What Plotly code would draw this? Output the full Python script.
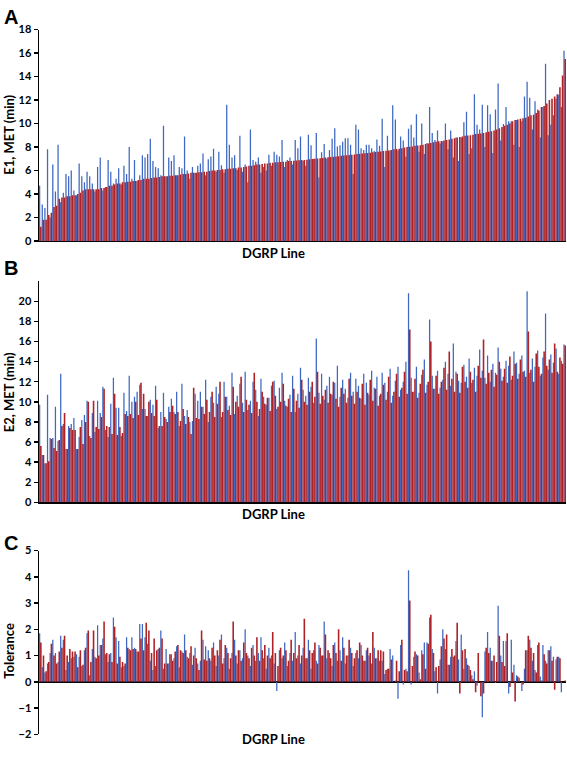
import plotly.graph_objects as go

# ---------------- data ----------------
# Panel A: E1, MET (min) -- red series sorted ascending
e1_red = [
    1.2, 1.8, 1.8, 2.2, 2.4, 2.9, 3.0, 3.6, 3.7, 3.7,
    3.8, 3.8, 3.9, 3.9, 4.0, 4.1, 4.3, 4.4, 4.4, 4.4,
    4.4, 4.4, 4.4, 4.5, 4.5, 4.6, 4.7, 4.7, 4.8, 4.9,
    4.9, 5.0, 5.0, 5.05, 5.05, 5.1, 5.1, 5.2, 5.2, 5.3,
    5.3, 5.3, 5.35, 5.4, 5.4, 5.45, 5.5, 5.5, 5.5, 5.55,
    5.55, 5.6, 5.6, 5.65, 5.7, 5.7, 5.75, 5.8, 5.8, 5.8,
    5.85, 5.85, 5.9, 5.9, 5.95, 6.0, 6.0, 6.05, 6.05, 6.1,
    6.1, 6.15, 6.15, 6.2, 6.2, 6.25, 6.25, 6.3, 6.35, 6.4,
    6.4, 6.45, 6.5, 6.5, 6.55, 6.6, 6.6, 6.65, 6.65, 6.7,
    6.7, 6.72, 6.75, 6.75, 6.8, 6.8, 6.82, 6.85, 6.87, 6.9,
    6.9, 6.92, 6.95, 6.97, 7.0, 7.02, 7.05, 7.07, 7.1, 7.12,
    7.15, 7.17, 7.2, 7.22, 7.25, 7.27, 7.3, 7.32, 7.35, 7.37,
    7.4, 7.42, 7.45, 7.47, 7.5, 7.52, 7.55, 7.57, 7.6, 7.62,
    7.65, 7.68, 7.7, 7.75, 7.8, 7.82, 7.85, 7.9, 7.95, 8.0,
    8.02, 8.05, 8.1, 8.12, 8.15, 8.2, 8.25, 8.3, 8.35, 8.4,
    8.45, 8.5, 8.52, 8.55, 8.6, 8.65, 8.7, 8.75, 8.8, 8.85,
    8.9, 8.95, 8.97, 9.0, 9.05, 9.1, 9.12, 9.15, 9.2, 9.25,
    9.3, 9.35, 9.4, 9.5, 9.6, 9.7, 9.8, 9.9, 10.0, 10.2,
    10.3, 10.35, 10.4, 10.45, 10.5, 10.6, 10.7, 10.75, 10.9, 11.1,
    11.4, 11.5, 11.7, 12.0, 12.1, 12.3, 12.5, 13.1, 14.1, 15.5,
]
e1_blue = [
    4.7, 3.1, 2.8, 7.8, 2.0, 6.5, 4.2, 8.2, 3.3, 4.1,
    5.7, 5.5, 6.0, 4.3, 3.9, 6.6, 5.5, 5.0, 5.9, 5.5,
    4.9, 4.2, 6.3, 7.1, 4.3, 4.6, 6.9, 5.9, 4.9, 5.3,
    6.2, 4.8, 6.4, 5.7, 8.0, 5.3, 6.9, 5.1, 5.6, 7.3,
    7.1, 7.4, 8.7, 6.8, 6.3, 6.2, 5.6, 9.8, 5.5, 7.1,
    6.8, 7.3, 5.6, 6.3, 6.2, 8.9, 6.0, 5.3, 6.3, 5.8,
    6.4, 6.6, 7.45, 5.6, 6.95, 7.2, 7.85, 5.9, 7.6, 6.45,
    5.8, 11.6, 8.2, 7.1, 7.3, 6.05, 8.95, 5.9, 6.5, 5.0,
    9.5, 6.9, 6.75, 7.1, 5.8, 6.3, 6.0, 7.35, 6.4, 7.6,
    7.35, 7.2, 8.6, 6.3, 6.9, 7.1, 6.5, 8.6, 7.9, 8.9,
    6.8, 6.4, 9.05, 8.15, 7.0, 9.2, 5.4, 7.55, 8.25, 7.0,
    7.75, 8.7, 9.6, 8.05, 8.15, 8.45, 8.75, 8.75, 8.2, 5.7,
    9.9, 9.5, 7.9, 7.75, 8.2, 8.2, 7.9, 7.65, 8.65, 8.1,
    10.4, 6.3, 8.95, 7.7, 11.55, 10.35, 7.7, 8.9, 8.55, 7.2,
    9.55, 9.9, 8.8, 10.8, 7.6, 10.0, 7.4, 8.35, 11.4, 9.2,
    8.6, 9.4, 8.3, 8.5, 10.0, 7.8, 9.4, 7.1, 8.8, 6.8,
    8.8, 10.1, 11.0, 7.4, 7.9, 12.5, 9.9, 9.5, 11.6, 8.0,
    11.55, 10.8, 7.5, 11.2, 13.4, 8.55, 9.95, 11.4, 10.2, 10.2,
    8.2, 10.3, 8.0, 10.2, 12.3, 13.55, 12.2, 9.5, 11.9, 11.2,
    8.8, 11.4, 15.1, 9.0, 9.9, 10.7, 12.1, 12.45, 11.4, 16.2,
]

# Panel B: E2, MET (min)
e2_blue = [
    9.7, 4.7, 3.9, 10.7, 6.4, 6.4, 9.5, 6.1, 12.8, 7.8,
    5.3, 7.6, 7.8, 8.4, 5.3, 6.5, 8.2, 8.7, 10.1, 6.6,
    8.9, 7.0, 10.1, 8.9, 11.5, 7.2, 6.5, 9.8, 12.4, 9.4,
    9.4, 6.6, 10.9, 9.1, 12.6, 10.0, 10.5, 11.0, 11.7, 9.3,
    9.3, 8.6, 10.2, 9.7, 11.6, 7.4, 9.0, 10.9, 8.3, 9.5,
    10.3, 9.0, 11.0, 7.6, 11.8, 8.6, 9.2, 8.0, 8.1, 10.8,
    10.1,
    11.0, 9.5, 12.2, 8.0, 10.5, 9.9, 11.5, 10.8, 8.5, 12.0,
    10.5, 9.6, 12.9, 8.8, 10.6, 11.8, 9.9, 13.0, 9.2, 10.1,
    12.0, 11.2, 8.6, 12.3, 10.5, 9.7, 10.4, 11.6, 12.1, 9.3,
    11.4, 12.9, 10.1, 9.5, 10.7, 12.6, 9.0, 10.8, 13.4, 11.2,
    10.6, 12.4, 11.5, 9.9, 16.3, 10.9, 12.8, 10.2, 11.6, 12.5,
    10.7, 11.9, 13.6, 10.5, 12.2, 11.3, 10.4, 12.9, 11.0, 12.3,
    11.6, 10.3, 12.8, 11.9, 10.7, 13.1, 11.4, 12.5, 10.6, 12.9,
    11.9, 11.0, 13.3, 10.6, 12.1, 13.5, 11.2, 12.0, 14.0, 20.8,
    12.4, 11.0, 13.5, 10.9, 12.7, 14.2, 11.7, 18.2, 12.6, 11.3,
    13.1, 11.4, 12.2, 14.0, 12.8, 11.6, 15.8, 13.0, 12.1, 11.9,
    13.7, 12.5, 14.3, 11.9, 13.4, 12.6, 15.2, 13.1, 12.4, 14.6,
    12.0, 13.8, 12.9, 15.4, 13.3, 12.5, 14.1, 13.6, 12.2, 15.0,
    13.9, 12.8, 14.6, 13.1, 21.0, 12.9, 14.3, 13.5, 15.1, 12.6,
    14.4, 18.8, 13.2, 14.7, 13.9, 15.3, 12.8, 14.1, 15.7,
]
e2_red = [
    5.6, 4.7, 3.9, 4.1, 6.3, 5.4, 5.1, 6.2, 7.6, 8.9,
    5.3, 7.4, 7.2, 7.2, 5.3, 7.5, 5.8, 8.0, 10.0, 6.4,
    10.1, 7.5, 7.3, 8.5, 11.3, 7.6, 7.5, 6.8, 10.8, 6.7,
    7.5, 6.9, 8.8, 8.6, 8.8, 8.4, 10.0, 8.7, 11.9, 10.8,
    8.6, 10.0, 8.9, 8.6, 10.2, 7.6, 7.6, 8.5, 8.0, 9.0,
    9.6, 8.8, 9.0, 8.1, 9.3, 7.8, 8.5, 6.8, 11.4, 8.4,
    8.3,
    9.5, 8.8, 10.2, 9.0, 11.0, 8.5, 9.8, 12.0, 9.0, 10.5,
    9.2, 8.7, 11.5, 10.0, 9.5, 12.5, 9.0, 10.2, 9.7, 8.9,
    12.9, 10.0, 9.3, 11.0, 9.8, 10.4, 9.1, 12.0, 10.6, 9.5,
    10.0, 11.8, 9.6, 10.3, 9.0, 11.3, 10.1, 9.4, 12.2, 10.0,
    9.7, 11.0, 12.0, 10.5, 13.0, 9.8, 10.6, 11.2, 9.9, 10.8,
    12.0, 10.3, 9.5, 11.4, 10.8, 9.9, 12.3, 10.6, 9.8, 11.0,
    10.4, 11.8, 9.7, 10.9, 12.2, 10.1, 11.3, 9.6, 10.8, 11.7,
    10.2, 12.5, 9.9, 11.0, 12.8, 10.5, 11.4, 13.0, 10.8, 17.2,
    11.0, 12.3, 10.4, 11.8, 13.2, 10.9, 12.0, 16.0, 11.3, 12.6,
    10.8, 12.0, 13.4, 11.2, 15.0, 12.3, 11.0, 12.8, 10.9, 13.5,
    12.0, 11.4, 13.0, 12.2, 11.0, 13.6, 12.4, 16.2, 11.8, 12.9,
    13.2, 11.5, 12.7, 14.0, 12.1, 13.3, 11.9, 14.5, 12.6, 13.8,
    12.3, 14.2, 13.0, 12.5, 17.0, 13.2, 12.0, 14.8, 13.5, 12.8,
    15.0, 13.6, 14.2, 12.9, 15.8, 13.0, 14.4, 13.8, 15.6,
]

# Panel C: Tolerance
tol_blue = [
    1.85, 0.55, 0.35, 0.7, 1.1, 1.6, 1.1, 0.75, 1.75, 1.6,
    0.45, 0.75, 0.9, 0.95, 1.05, 0.95, 0.6, 1.2, 1.85, 0.25,
    1.25, 0.95, 2.15, 1.4, 1.65, 1.05, 0.75, 1.1, 2.45, 1.7,
    1.55, 0.55, 0.6, 1.7, 1.25, 1.7, 1.3, 1.15, 2.2, 2.2,
    1.7, 1.45, 0.8, 0.45, 0.6, 1.25, 1.95, 0.5, 1.25, 0.7,
    1.05, 0.9, 1.35, 0.55, 1.15, 1.8, 0.95, 1.1, 0.65, 1.3,
    0.7, 0.8, 1.6, 1.35,
    1.2, 0.8, 1.5, 0.6, 1.0, 1.8, 0.9, 1.3, 0.5, 1.1,
    1.6, 0.7, 1.2, 0.9, 2.0, 1.0, 0.6, 1.4, 0.8, 1.1,
    1.7, 0.9, 0.5, 1.3, 1.0, 0.7, -0.35, 1.2, 0.9, 1.5,
    0.6, 1.1, 0.8, 1.9, 1.0, 0.7, 1.3, 0.9, 1.6, 0.5,
    1.2, 0.8, 1.4, 1.0, 2.3, 0.9, 1.1, 0.6, 1.5, 0.8,
    1.2, 1.7, 0.7, 1.0, 1.3, 0.6, 1.1, 0.9, 1.4, 0.8,
    1.2, 1.0, 0.7, 1.3, 0.9,
    0.8, 0.8, 0.3, 0.5, 1.25, 1.0, 0.05, -0.65, 1.4, -0.1,
    0.5, 4.25, -0.1, 0.95, 1.05, 0.35, 1.2, 1.5, 1.5, 2.45,
    1.25, 0.4, -0.45, 0.85, 2.0, 1.25, 0.65, 0.95, 0.95, 1.55,
    0.85, 1.8, 0.5, 0.9, 0.6, 0.25, 0.4, -0.15, 0.0, -1.35,
    1.15, 1.9, 1.3, 0.8, -0.05, 2.9, 1.0, 1.55, 1.55, -0.45,
    1.6, 0.65, 0.25, 0.15, -0.35, 0.5, 1.2, 1.6, 0.8, 0.45,
    1.4, 0.2, 1.4, 0.8, 1.2, 1.35, 0.95, 0.85, 0.95, -0.4,
    0.0,
]
tol_red = [
    1.5, 1.0, 0.4, 0.75, 1.45, 1.0, 0.7, 1.15, 1.3, 1.75,
    1.0, 1.25, 1.15, 1.15, 0.55, 1.2, 0.65, 1.3, 1.95, 0.75,
    1.95, 0.9, 1.0, 1.4, 2.3, 1.1, 1.05, 0.75, 2.1, 0.7,
    0.95, 0.75, 0.7, 1.3, 1.2, 1.25, 1.25, 1.15, 1.65, 1.2,
    2.25, 1.95, 1.1, 1.65, 1.2, 1.3, 1.65, 0.7, 0.7, 1.05,
    0.8, 1.15, 1.4, 1.2, 1.1, 1.2, 0.9, 1.35, 1.0, 0.9,
    0.45, 1.95, 0.85, 0.8,
    0.9, 1.3, 1.0, 1.2, 1.6, 0.7, 1.4, 1.1, 0.9, 2.3,
    1.0, 1.2, 0.8, 1.5, 1.1, 0.9, 1.3, 1.0, 1.7, 0.8,
    1.2, 1.4, 1.0, 0.9, 1.9, 1.1, 0.6, 1.3, 1.0, 1.2,
    0.8, 1.6, 1.1, 0.9, 1.4, 1.0, 2.4, 0.9, 1.2, 1.1,
    1.5, 0.7, 1.3, 1.0, 1.8, 1.2, 0.9, 1.4, 1.1, 2.0,
    0.8, 1.3, 1.0, 1.6, 1.1, 0.9, 1.2, 1.5, 1.0, 0.8,
    1.3, 1.1, 1.9, 0.9, 1.2,
    1.2, 1.15, 0.45, 0.5, 0.85, 0.0, 0.8, 0.4, 1.6, 0.45,
    0.4, 3.1, 0.6, 1.15, 1.0, 0.1, 1.05, 0.5, 1.45, 2.55,
    1.1, 0.55, 0.6, 1.35, 1.65, 1.8, 0.65, 1.25, 1.0, 2.25,
    -0.45, 1.2, 1.25, 0.65, 0.45, 0.1, -0.4, 1.1, -0.55, -0.45,
    1.3, 1.1, 0.8, 1.0, 0.75, 1.75, 0.75, 0.6, 1.85, -0.2,
    0.35, -0.75, 0.2, 0.0, -0.1, 1.2, 1.75, 1.3, 1.1, 0.35,
    1.5, 0.05, 1.05, 0.7, 1.2, 0.8, -0.3, 0.95, 0.9, 0.0,
    0.05,
]

a_ticks = [0, 2, 4, 6, 8, 10, 12, 14, 16, 18]
b_ticks = [0, 2, 4, 6, 8, 10, 12, 14, 16, 18, 20]
c_ticks = [-2, -1, 0, 1, 2, 3, 4, 5]

# ---------------- styling ----------------
W, H = 567, 758
BLUE = "#3E68C2"
RED = "#AE2226"
FONT = "Lato"


def px_x(p):
    return p / W


def px_y(p):
    return 1 - p / H


n_lines = max(len(e1_red), len(e1_blue), len(e2_red), len(e2_blue),
              len(tol_red), len(tol_blue))

fig = go.Figure()
panels = [
    ("x", "y", e1_blue, e1_red),
    ("x2", "y2", e2_blue, e2_red),
    ("x3", "y3", tol_blue, tol_red),
]
for xa, ya, blue, red in panels:
    # blue bar on the left of each line's slot, red bar overlapping it on the right
    fig.add_trace(go.Bar(x=list(range(len(blue))), y=blue, xaxis=xa, yaxis=ya,
                         width=0.48, offset=-0.5,
                         marker=dict(color=BLUE, line=dict(width=0)),
                         showlegend=False))
    fig.add_trace(go.Bar(x=list(range(len(red))), y=red, xaxis=xa, yaxis=ya,
                         width=0.6, offset=-0.1,
                         marker=dict(color=RED, line=dict(width=0)),
                         showlegend=False))

x_dom = [px_x(39), px_x(566)]
tickfont = dict(family=FONT, size=11, color="black", weight="bold")

common_x = dict(domain=x_dom, range=[-0.5, n_lines - 0.5], showticklabels=False,
                showgrid=False, zeroline=False, ticks="", fixedrange=True)
common_y = dict(showgrid=False, ticks="outside", ticklen=4, tickwidth=1.5,
                tickcolor="black", showline=True, linecolor="black",
                linewidth=1.5, tickfont=tickfont)

fig.update_layout(
    width=W, height=H,
    margin=dict(l=0, r=0, t=0, b=0),
    paper_bgcolor="white", plot_bgcolor="white",
    barmode="overlay",
    xaxis=dict(**common_x, anchor="y", showline=True, linecolor="black", linewidth=1.5),
    xaxis2=dict(**common_x, anchor="y2", showline=True, linecolor="black", linewidth=1.5),
    xaxis3=dict(**common_x, anchor="y3", showline=False),
    yaxis=dict(**common_y, anchor="x", domain=[px_y(238), px_y(23)],
               range=[0, 18], tickvals=a_ticks, zeroline=False),
    yaxis2=dict(**common_y, anchor="x2", domain=[px_y(504), px_y(279)],
                range=[0, 22], tickvals=b_ticks, zeroline=False),
    yaxis3=dict(**common_y, anchor="x3", domain=[px_y(740), px_y(553)],
                range=[-2, 5], tickvals=c_ticks,
                zeroline=True, zerolinecolor="black", zerolinewidth=1.5),
)

ann = []
for letter, py in [("A", 10), ("B", 266), ("C", 545)]:
    ann.append(dict(text=letter, x=px_x(2), y=px_y(py), xref="paper", yref="paper",
                    xanchor="left", yanchor="middle", showarrow=False,
                    font=dict(family="Liberation Sans", size=20, color="black",
                              weight="bold")))
for title, py in [("E1, MET (min)", 130), ("E2, MET (min)", 392), ("Tolerance", 655)]:
    ann.append(dict(text=title, x=px_x(9), y=px_y(py), xref="paper", yref="paper",
                    xanchor="center", yanchor="middle", textangle=-90, showarrow=False,
                    font=dict(family=FONT, size=13, color="black", weight="bold")))
for py in [250, 516, 745]:
    ann.append(dict(text="DGRP Line", x=px_x(273), y=px_y(py), xref="paper",
                    yref="paper", xanchor="center", yanchor="middle", showarrow=False,
                    font=dict(family=FONT, size=13, color="black", weight="bold")))
fig.update_layout(annotations=ann)

fig.write_html(
    "out.html",
    config={"displayModeBar": False, "staticPlot": True},
    post_script="document.body.style.margin='0';document.body.style.overflow='hidden';",
)
